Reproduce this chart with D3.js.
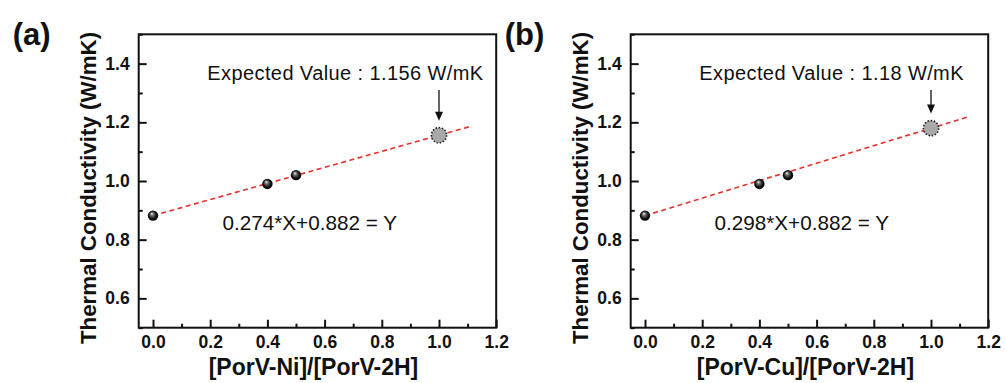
<!DOCTYPE html>
<html>
<head>
<meta charset="utf-8">
<script src="https://cdn.jsdelivr.net/npm/d3@7"></script>
<style>
  html, body { margin: 0; padding: 0; background: #fff; }
  svg { display: block; font-family: "Liberation Sans", Arial, sans-serif; }
</style>
</head>
<body>
<svg id="chart" width="1006" height="383"></svg>
<script>
// Measured thermal conductivity vs. metalloporphyrin ratio
const panelTags = ["(a)", "(b)"];
const xTitles = ["[PorV-Ni]/[PorV-2H]", "[PorV-Cu]/[PorV-2H]"];
const yTitle = "Thermal Conductivity (W/mK)";
const ratios = [0, 0.4, 0.5];
const conductivityNi = [0.882, 0.99, 1.02];
const conductivityCu = [0.882, 0.99, 1.02];
const fitSlopes = [0.274, 0.298];
const fitIntercept = 0.882;
const fitEndX = [1.11, 1.13];
const expectedRatio = 1.0;
const expectedValues = [1.156, 1.18];
const xTickValues = [0, 0.2, 0.4, 0.6, 0.8, 1.0, 1.2];
const yTickValues = [0.6, 0.8, 1.0, 1.2, 1.4];
const xMinorValues = [0.1, 0.3, 0.5, 0.7, 0.9, 1.1];
const yMinorValues = [0.5, 0.7, 0.9, 1.1, 1.3, 1.5];

const svg = d3.select("#chart");

// shaded sphere look for the measured points
const defs = svg.append("defs");
const grad = defs.append("radialGradient")
  .attr("id", "sphere").attr("cx", "50%").attr("cy", "50%").attr("r", "55%")
  .attr("fx", "38%").attr("fy", "30%");
grad.append("stop").attr("offset", "0%").attr("stop-color", "#ffffff");
grad.append("stop").attr("offset", "25%").attr("stop-color", "#7a7a7a");
grad.append("stop").attr("offset", "65%").attr("stop-color", "#151515");
grad.append("stop").attr("offset", "100%").attr("stop-color", "#000000");

const frame = { top: 34.3, bottom: 327.7, width: 357.5 };
const panelLeft = [138.7, 630.7];

function drawPanel(i, values) {
  const left = panelLeft[i];
  const g = svg.append("g").attr("transform", `translate(${left},${frame.top})`);
  const w = frame.width, h = frame.bottom - frame.top;

  const x = d3.scaleLinear().domain([-0.05, 1.2]).range([0, w]);
  const y = d3.scaleLinear().domain([0.5, 1.5]).range([h, 0]);

  // x axis (ticks point into the plot)
  g.append("g").attr("transform", `translate(0,${h})`)
    .call(d3.axisBottom(x).tickValues(xTickValues).tickSize(-8).tickPadding(8)
      .tickFormat(d3.format(".1f")));
  g.append("g").attr("transform", `translate(0,${h})`)
    .call(d3.axisBottom(x).tickValues(xMinorValues).tickSize(-4).tickFormat(""));

  g.append("g")
    .call(d3.axisLeft(y).tickValues(yTickValues).tickSize(-8).tickPadding(9)
      .tickFormat(d3.format(".1f")));
  g.append("g")
    .call(d3.axisLeft(y).tickValues(yMinorValues).tickSize(-4).tickFormat(""));

  g.selectAll(".domain").remove();
  g.selectAll(".tick line").attr("stroke", "#111").attr("stroke-width", 2);
  g.selectAll(".tick text")
    .attr("font-family", "'Liberation Sans', Arial, sans-serif")
    .attr("font-size", 17.5).attr("font-weight", "bold").attr("fill", "#111");

  // frame
  g.append("rect").attr("x", 0).attr("y", 0).attr("width", w).attr("height", h)
    .attr("fill", "none").attr("stroke", "#111").attr("stroke-width", 2);

  // linear fit, dashed
  const slope = fitSlopes[i];
  const fitPts = [0, fitEndX[i]].map(v => [v, slope * v + fitIntercept]);
  g.append("path")
    .attr("d", d3.line().x(d => x(d[0])).y(d => y(d[1]))(fitPts))
    .attr("fill", "none").attr("stroke", "#e8302c").attr("stroke-width", 1.6)
    .attr("stroke-dasharray", "5,3.5");

  // expected value marker
  const ex = x(expectedRatio), ey = y(expectedValues[i]);
  g.append("circle").attr("cx", ex).attr("cy", ey).attr("r", 7.6)
    .attr("fill", "#a9a9a9").attr("stroke", "#222").attr("stroke-width", 1.6)
    .attr("stroke-dasharray", "1.6,1.6");

  // arrow pointing at the expected value
  const arrowTop = 90 - frame.top;
  const tip = ey - 7.6 - 7;
  g.append("line").attr("x1", ex).attr("x2", ex).attr("y1", arrowTop).attr("y2", tip - 8)
    .attr("stroke", "#111").attr("stroke-width", 1.3);
  g.append("path")
    .attr("d", `M${ex - 4},${tip - 9}L${ex + 4},${tip - 9}L${ex},${tip}Z`)
    .attr("fill", "#111");

  // measured points
  g.selectAll(".pt").data(ratios.map((r, k) => [r, values[k]])).enter()
    .append("circle").attr("class", "pt")
    .attr("cx", d => x(d[0])).attr("cy", d => y(d[1])).attr("r", 5.2)
    .attr("fill", "url(#sphere)");

  // annotations
  g.append("text").attr("x", x(0.19)).attr("y", y(1.345))
    .attr("font-size", 20).attr("letter-spacing", 0.4).attr("fill", "#111")
    .text(`Expected Value : ${expectedValues[i]} W/mK`);
  g.append("text").attr("x", x(0.243)).attr("y", y(0.832))
    .attr("font-size", 20.7).attr("fill", "#111")
    .text(`${slope}*X+${fitIntercept} = Y`);

  // axis titles
  g.append("text").attr("x", w / 2 - 4).attr("y", 375 - frame.top)
    .attr("text-anchor", "middle").attr("font-size", 23).attr("font-weight", "bold")
    .attr("fill", "#111").text(xTitles[i]);
  g.append("text")
    .attr("transform", `translate(${96 - 138.7},${188 - frame.top}) rotate(-90)`)
    .attr("text-anchor", "middle").attr("font-size", 22.3).attr("font-weight", "bold")
    .attr("fill", "#111").text(yTitle);

  // panel tag
  svg.append("text").attr("x", left - 126).attr("y", 45)
    .attr("font-size", 31).attr("font-weight", "bold").attr("fill", "#111")
    .text(panelTags[i]);
}

drawPanel(0, conductivityNi);
drawPanel(1, conductivityCu);
</script>
</body>
</html>
